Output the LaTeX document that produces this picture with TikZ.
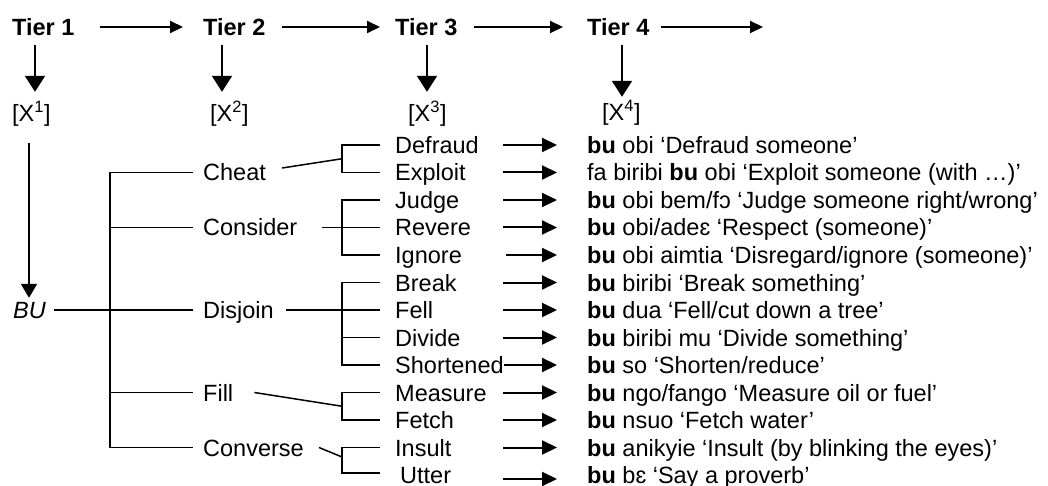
\documentclass[tikz,border=0pt]{standalone}
\usepackage{fontspec}
\setmainfont{Liberation Sans}
\usetikzlibrary{arrows.meta,calc}
\begin{document}
\begin{tikzpicture}[x=1pt,y=-1pt,
  txt/.style={inner sep=0pt, text height=17pt, text depth=0pt, anchor=west, font=\fontsize{23.5}{27.5}\selectfont},
  hd/.style={txt, font=\fontsize{23.5}{27.5}\selectfont\bfseries},
  ln/.style={line width=1.5pt},
  arr/.style={line width=2pt, -{Triangle[length=15pt,width=14pt]}},
  harr/.style={line width=2pt, -{Triangle[length=13pt,width=12pt]}},
  darr/.style={line width=2pt, -{Triangle[length=16pt,width=20pt]}},
  barr/.style={line width=2pt, -{Triangle[length=14pt,width=16pt]}}]
\useasboundingbox (0,0) rectangle (1048,486);
% x reference coordinates
\coordinate (tx) at (110,0);
\coordinate (lx) at (193,0);
\coordinate (bx) at (342,0);
\coordinate (hx) at (380,0);
\coordinate (ax) at (503,0);
\coordinate (ix) at (506,0);
\coordinate (px) at (557,0);
% header
\node[hd] (t1) at (12,27) {Tier 1};
\node[hd] (t2) at (203,27) {Tier 2};
\node[hd] (t3) at (395,27) {Tier 3};
\node[hd] (t4) at (587,27) {Tier 4};
\coordinate (tend) at (763,27);
\draw[harr] ([xshift=25pt]t1.east) -- ([xshift=-20pt]t2.west);
\draw[harr] ([xshift=16pt]t2.east) -- ([xshift=-15pt]t3.west);
\draw[harr] ([xshift=16pt]t3.east) -- ([xshift=-24pt]t4.west);
\draw[harr] ([xshift=11pt]t4.east) -- (tend);
% X nodes
\node[txt] (x1) at (12,113) {[X\textsuperscript{1}]};
\node[txt] (x2) at (210,113) {[X\textsuperscript{2}]};
\node[txt] (x3) at (408,113) {[X\textsuperscript{3}]};
\node[txt] (x4) at (602,112) {[X\textsuperscript{4}]};
\draw[darr] ([xshift=23pt,yshift=-9.5pt]t1.south west) -- ([xshift=23pt,yshift=12.5pt]x1.north west);
\draw[darr] ([xshift=19pt,yshift=-9.5pt]t2.south west) -- ([xshift=12pt,yshift=12.5pt]x2.north west);
\draw[darr] ([xshift=32pt,yshift=-9.5pt]t3.south west) -- ([xshift=19pt,yshift=12.5pt]x3.north west);
\draw[darr] ([xshift=35pt,yshift=-9.5pt]t4.south west) -- ([xshift=20pt,yshift=6.5pt]x4.north west);
% BU
\node[txt] (bu) at (13,310) {\itshape BU};
\draw[barr] ([xshift=17pt,yshift=-21.5pt]x1.south west) -- ([xshift=16pt,yshift=3.5pt]bu.north west);
% level 2
\node[txt] (cheat) at (203,172.5) {Cheat};
\node[txt] (cons) at (203,227.5) {Consider};
\node[txt] (disj) at (203,310) {Disjoin};
\node[txt] (fill) at (203,392.5) {Fill};
\node[txt] (conv) at (203,447.5) {Converse};
% level 3
\node[txt] (defr) at (395,145) {Defraud};
\node[txt] (expl) at (395,172.5) {Exploit};
\node[txt] (judg) at (395,200) {Judge};
\node[txt] (reve) at (395,227.5) {Revere};
\node[txt] (igno) at (395,255) {Ignore};
\node[txt] (brea) at (395,282.5) {Break};
\node[txt] (fell) at (395,310) {Fell};
\node[txt] (divi) at (395,337.5) {Divide};
\node[txt] (shor) at (395,365) {Shortened};
\node[txt] (meas) at (395,392.5) {Measure};
\node[txt] (fetc) at (395,420) {Fetch};
\node[txt] (insu) at (395,447.5) {Insult};
\node[txt] (utte) at (400,475) {Utter};
% level 4
\node[txt] (g0) at (587,145) {\textbf{bu} obi ‘Defraud someone’};
\node[txt] (g1) at (587,172.5) {fa biribi \textbf{bu} obi ‘Exploit someone (with …)’};
\node[txt] (g2) at (587,200) {\textbf{bu} obi bem/fɔ ‘Judge someone right/wrong’};
\node[txt] (g3) at (587,227.5) {\textbf{bu} obi/adeɛ ‘Respect (someone)’};
\node[txt] (g4) at (587,255) {\textbf{bu} obi aimtia ‘Disregard/ignore (someone)’};
\node[txt] (g5) at (587,282.5) {\textbf{bu} biribi ‘Break something’};
\node[txt] (g6) at (587,310) {\textbf{bu} dua ‘Fell/cut down a tree’};
\node[txt] (g7) at (587,337.5) {\textbf{bu} biribi mu ‘Divide something’};
\node[txt] (g8) at (587,365) {\textbf{bu} so ‘Shorten/reduce’};
\node[txt] (g9) at (587,392.5) {\textbf{bu} ngo/fango ‘Measure oil or fuel’};
\node[txt] (g10) at (587,420) {\textbf{bu} nsuo ‘Fetch water’};
\node[txt] (g11) at (587,447.5) {\textbf{bu} anikyie ‘Insult (by blinking the eyes)’};
\node[txt] (g12) at (587,475) {\textbf{bu} bɛ ‘Say a proverb’};
% trunk
\draw[ln] (cheat.west -| tx) -- (conv.west -| tx);
\foreach \n in {cheat,cons,disj,fill,conv}
  \draw[ln] (\n.west -| tx) -- (\n.west -| lx);
\draw[ln] ([xshift=8pt]bu.east) -- (disj.west -| tx);
% brackets
\draw[ln] (defr.west -| hx) -- (defr.west -| bx) -- (expl.west -| bx) -- (expl.west -| hx);
\draw[ln] (judg.west -| hx) -- (judg.west -| bx) -- (igno.west -| bx) -- (igno.west -| hx);
\draw[ln] (reve.west -| bx) -- (reve.west -| hx);
\draw[ln] (brea.west -| hx) -- (brea.west -| bx) -- (shor.west -| bx) -- (shor.west -| hx);
\draw[ln] (divi.west -| bx) -- (divi.west -| hx);
\draw[ln] (meas.west -| hx) -- (meas.west -| bx) -- (fetc.west -| bx) -- (fetc.west -| hx);
\draw[ln] (insu.west -| hx) -- (insu.west -| bx) -- ([yshift=2pt]utte.west -| bx) -- ([yshift=2pt]utte.west -| hx);
% level 2 to level 3
\draw[ln] ([xshift=16pt,yshift=4.5pt]cheat.east) -- ($(defr.west -| bx)!0.5!(expl.west -| bx)$);
\draw[ln] ([xshift=25pt]cons.east) -- (reve.west -| hx);
\draw[ln] ([xshift=12pt]disj.east) -- (fell.west -| hx);
\draw[ln] ([xshift=21pt]fill.east) -- ($(meas.west -| bx)!0.5!(fetc.west -| bx)$);
\draw[ln] ([xshift=15pt]conv.east) -- ($(insu.west -| bx)+(0,9.5)$);
% level 3 to level 4 arrows
\draw[arr] (defr.east -| ax) -- (g0.west -| px);
\draw[arr] (expl.east -| ax) -- (g1.west -| px);
\draw[arr] (judg.east -| ax) -- (g2.west -| px);
\draw[arr] (reve.east -| ax) -- (g3.west -| px);
\draw[arr] (igno.east -| ix) -- (g4.west -| px);
\draw[arr] (brea.east -| ax) -- (g5.west -| px);
\draw[arr] (fell.east -| ax) -- (g6.west -| px);
\draw[arr] (divi.east -| ax) -- (g7.west -| px);
\draw[arr] (shor.east) -- (g8.west -| px);
\draw[arr] (meas.east -| ax) -- (g9.west -| px);
\draw[arr] (fetc.east -| ax) -- (g10.west -| px);
\draw[arr] (insu.east -| ax) -- (g11.west -| px);
\draw[arr] ([yshift=-4pt]utte.east -| ax) -- ([yshift=-4pt]g12.west -| px);
\end{tikzpicture}
\end{document}
